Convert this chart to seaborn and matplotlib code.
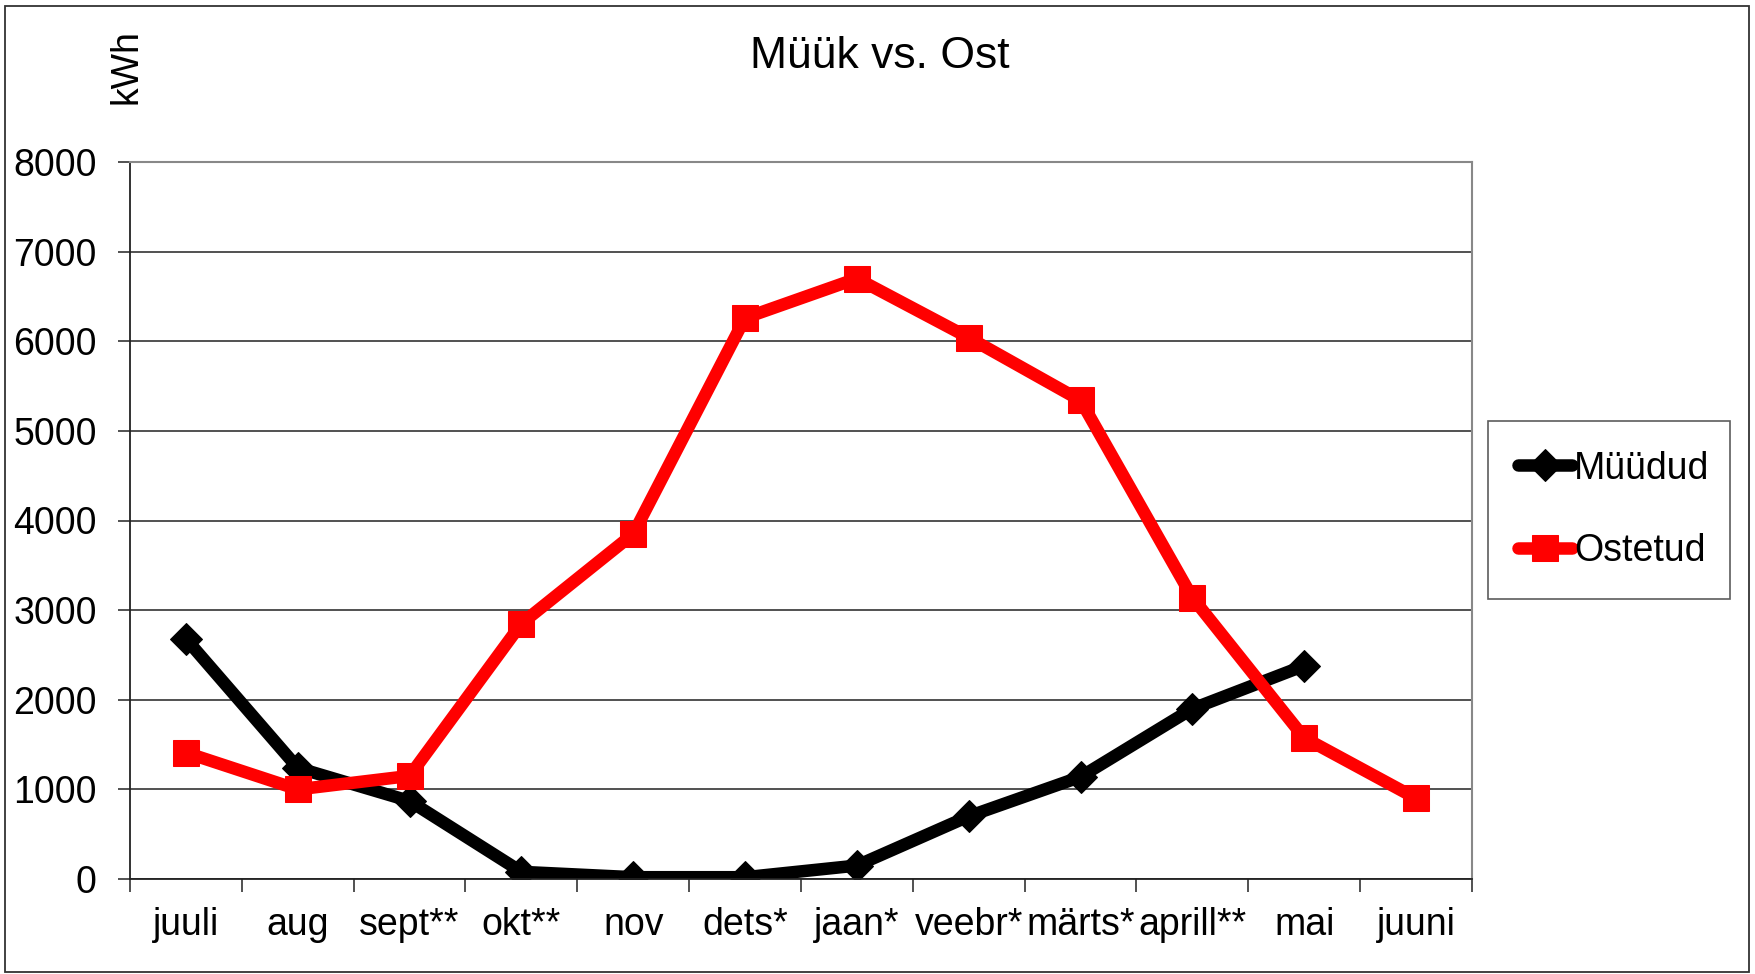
import matplotlib
matplotlib.use("Agg")
import matplotlib.pyplot as plt
import seaborn as sns
import numpy as np
import pandas as pd
from matplotlib.patches import Rectangle

months = ["juuli", "aug", "sept**", "okt**", "nov", "dets*", "jaan*",
          "veebr*", "märts*", "aprill**", "mai", "juuni"]
muudud = [2680, 1240, 870, 80, 20, 20, 150, 700, 1140, 1900, 2380, np.nan]
ostetud = [1410, 1000, 1150, 2850, 3850, 6260, 6700, 6040, 5340, 3140, 1575, 900]
yticks = [0, 1000, 2000, 3000, 4000, 5000, 6000, 7000, 8000]

sns.set_theme(style="white")
plt.rcParams['font.family'] = ['Liberation Sans', 'DejaVu Sans']
plt.rcParams['text.color'] = 'black'
plt.rcParams['xtick.color'] = 'black'
plt.rcParams['ytick.color'] = 'black'
plt.rcParams['xtick.labelcolor'] = 'black'
plt.rcParams['ytick.labelcolor'] = 'black'

FS = 27

df = pd.DataFrame({"month": months, "Müüdud": muudud, "Ostetud": ostetud})
df["pos"] = np.arange(len(months))

fig = plt.figure(figsize=(17.56, 9.74), dpi=100)
ax = fig.add_axes([130 / 1756, 1 - 879 / 974, (1472 - 130) / 1756, (879 - 162) / 974])

sns.lineplot(data=df.dropna(subset=["Müüdud"]), x="pos", y="Müüdud", ax=ax, color="black",
             linewidth=9, marker="D", markersize=16, markeredgecolor="black",
             label="Müüdud", solid_joinstyle="round", solid_capstyle="round")
sns.lineplot(data=df, x="pos", y="Ostetud", ax=ax, color="#ff0000",
             linewidth=9, marker="s", markersize=19, markeredgecolor="#ff0000",
             label="Ostetud", solid_joinstyle="round", solid_capstyle="round")

ax.set_xlim(-0.5, len(months) - 0.5)
ax.set_ylim(0, 8000)
ax.set_yticks(yticks)
ax.set_yticklabels([str(v) for v in yticks], fontsize=FS)
ax.set_xticks(np.arange(len(months)))
ax.set_xticklabels(months, fontsize=FS)
ax.set_xticks(np.arange(len(months) + 1) - 0.5, minor=True)
ax.tick_params(axis="x", which="major", length=0, pad=20)
ax.tick_params(axis="x", which="minor", length=9, width=1.2, color="#333333", direction="out", bottom=True)
ax.tick_params(axis="y", which="major", length=9, width=1.2, color="#333333", direction="out", left=True, pad=15)
ax.set_xlabel("")
ax.set_ylabel("")

ax.yaxis.grid(True, color="#333333", linewidth=1.2)
ax.xaxis.grid(False)
ax.set_axisbelow(True)
for s in ["left", "bottom"]:
    ax.spines[s].set_color("#222222")
    ax.spines[s].set_linewidth(1.3)
for s in ["top", "right"]:
    ax.spines[s].set_color("#888888")
    ax.spines[s].set_linewidth(1.5)

leg = ax.legend(loc="center", bbox_to_anchor=(1488 / 1756, 1 - 594 / 974, (1730 - 1488) / 1756, (594 - 426) / 974),
                bbox_transform=fig.transFigure, mode="expand", fontsize=FS, frameon=True,
                fancybox=False, edgecolor="#333333", handlelength=1.45, handletextpad=0.05,
                labelspacing=1.25, borderpad=0.8, borderaxespad=0.0, markerscale=1.0)
leg.get_frame().set_linewidth(1.2)

fig.text(880 / 1756, 1 - 56 / 974, "Müük vs. Ost", ha="center", va="center", fontsize=32)
fig.text(127 / 1756, 1 - 67 / 974, "kWh", ha="center", va="center", rotation=90, fontsize=FS)

fig.patches.append(Rectangle((5 / 1756, 0.002), 1 - 12 / 1756, 1 - 8 / 974, transform=fig.transFigure,
                             fill=False, edgecolor="#333333", linewidth=1.3))

fig.savefig("out.png", dpi=100, facecolor="white")
